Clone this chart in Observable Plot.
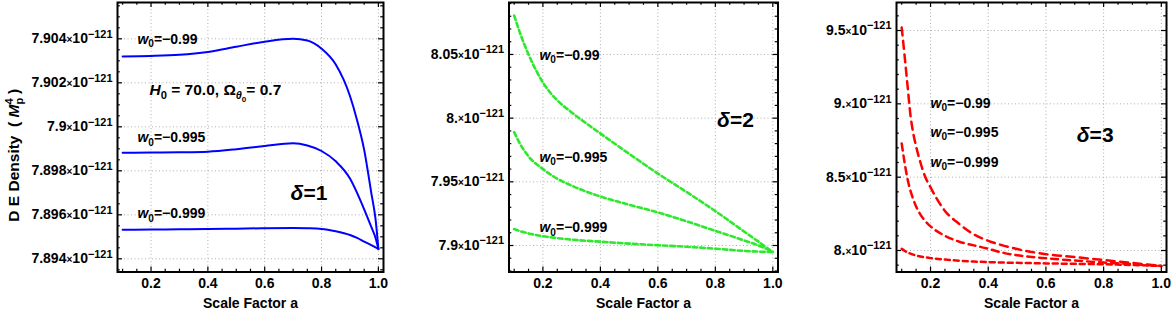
<!DOCTYPE html>
<html><head><meta charset="utf-8">
<script src="https://cdn.jsdelivr.net/npm/d3@7"></script>
<script src="https://cdn.jsdelivr.net/npm/@observablehq/plot@0.6"></script>
<style>
body{margin:0;background:#fff;}
#wrap{position:relative;width:1171px;height:311px;overflow:hidden;}
.panel{position:absolute;top:0;}
#wrap g[aria-label="y-axis tick label"], #wrap g[aria-label="x-axis tick label"]{font-size:14px;}
</style></head><body><div id="wrap"></div>
<script>
// ---------- data (density in units of 1e-121 M_p^4) ----------
const xTicks = [0.2, 0.4, 0.6, 0.8, 1.0];
const xTickLabels = ["0.2", "0.4", "0.6", "0.8", "1.0"];

// delta = 1
const a1 = [0.1, 0.2, 0.3, 0.4, 0.5, 0.6, 0.7, 0.75, 0.8, 0.85, 0.9, 0.925, 0.95, 0.975, 0.99, 1.0];
const d1_w099  = [7.90320, 7.90322, 7.90327, 7.90340, 7.90364, 7.90387, 7.90400, 7.90392, 7.90355, 7.90283, 7.90140, 7.90030, 7.89895, 7.89700, 7.89580, 7.89445];
const d1_w0995 = [7.89882, 7.89883, 7.89884, 7.89887, 7.89898, 7.89913, 7.89925, 7.89915, 7.89890, 7.89843, 7.89765, 7.89700, 7.89625, 7.89545, 7.89495, 7.89445];
const d1_w0999 = [7.89532, 7.89533, 7.89534, 7.89535, 7.89537, 7.89539, 7.89540, 7.89539, 7.89536, 7.89525, 7.89508, 7.89495, 7.89478, 7.89462, 7.89452, 7.89445];
const y1Ticks = [7.894, 7.896, 7.898, 7.9, 7.902, 7.904];
const y1TickLabels = ["7.894", "7.896", "7.898", "7.9", "7.902", "7.904"];

// delta = 2
const a2 = [0.1, 0.12, 0.15, 0.2, 0.25, 0.3, 0.4, 0.5, 0.6, 0.7, 0.8, 0.9, 0.95, 1.0];
const d2_w099  = [8.0806, 8.0670, 8.0500, 8.0280, 8.0140, 8.0045, 7.9880, 7.9720, 7.9565, 7.9420, 7.9270, 7.9110, 7.9030, 7.8947];
const d2_w0995 = [7.9890, 7.9800, 7.9700, 7.9600, 7.9525, 7.9470, 7.9385, 7.9320, 7.9260, 7.9190, 7.9115, 7.9040, 7.9000, 7.8950];
const d2_w0999 = [7.9129, 7.9113, 7.9095, 7.9073, 7.9058, 7.9046, 7.9030, 7.9015, 7.9002, 7.8990, 7.8975, 7.8958, 7.8952, 7.8947];
const y2Ticks = [7.9, 7.95, 8.0, 8.05];
const y2TickLabels = ["7.9", "7.95", "8.", "8.05"];

// delta = 3
const a3 = [0.1, 0.11, 0.12, 0.13, 0.14, 0.15, 0.165, 0.18, 0.2, 0.25, 0.3, 0.35, 0.4, 0.45, 0.5, 0.6, 0.7, 0.8, 0.9, 1.0];
const d3_w099  = [9.52, 9.33, 9.13, 8.93, 8.80, 8.71, 8.60, 8.51, 8.43, 8.27, 8.18, 8.11, 8.066, 8.035, 8.010, 7.975, 7.955, 7.935, 7.915, 7.8945];
const d3_w0995 = [8.73, 8.60, 8.49, 8.41, 8.35, 8.30, 8.245, 8.205, 8.165, 8.10, 8.06, 8.035, 8.012, 7.985, 7.968, 7.947, 7.932, 7.918, 7.907, 7.8945];
const d3_w0999 = [8.011, 7.998, 7.987, 7.979, 7.972, 7.966, 7.959, 7.954, 7.948, 7.938, 7.930, 7.925, 7.921, 7.918, 7.916, 7.912, 7.909, 7.906, 7.901, 7.8945];
const y3Ticks = [8.0, 8.5, 9.0, 9.5];
const y3TickLabels = ["8.", "8.5", "9.", "9.5"];

const seriesNames = ["w0=-0.99", "w0=-0.995", "w0=-0.999"];
const wLabels = ["{i:w}{sub:0}=−0.99", "{i:w}{sub:0}=−0.995", "{i:w}{sub:0}=−0.999"];

// ---------- rich text helper ----------
const SPEC = {
  n: {s: 1, sh: 0}, i: {s: 1, sh: 0, it: true},
  sub: {s: 0.72, sh: 0.25}, isub: {s: 0.7, sh: 0.25, it: true},
  subsub: {s: 0.52, sh: 0.42},
  sup: {s: 0.78, sh: -0.4}, supstack: {s: 0.72, sh: -0.42, stack: true},
  x: {s: 0.72, sh: -0.03}
};
function rich(el) {
  const src = el.textContent;
  if (!src.includes("{")) return;
  const base = parseFloat(getComputedStyle(el).fontSize);
  const sel = d3.select(el); sel.text(null);
  const re = /\{(\w+):([^}]*)\}|([^{]+)/g;
  let m, cur = 0, prev = null;
  while ((m = re.exec(src))) {
    const type = m[1] || "n", txt = m[1] ? m[2] : m[3];
    const sp = SPEC[type];
    const shift = sp.sh * base;
    const t = sel.append("tspan").text(txt).attr("font-size", sp.s * base).attr("dy", shift - cur);
    if (sp.it) t.attr("font-style", "italic");
    if (sp.stack && prev) t.attr("dx", -prev.node().getComputedTextLength());
    cur = shift; prev = t;
  }
}

// ---------- panels ----------
const H = 311, MT = 2, MB = 39.5;
const xDomain = [0.082, 1.018];
const xMinor = d3.range(0.1, 1.0001, 0.05).map(v => +v.toFixed(3)).filter(v => !xTicks.some(t => Math.abs(t - v) < 1e-9));

const panels = [
  {left: 0, width: 390, ml: 117, mr: 7, yDomain: [7.89340, 7.90565], yTicks: y1Ticks, yLabels: y1TickLabels,
   minorStep: 0.0005, color: "#0000ff", sw: 2,
   series: [{a: a1, v: d1_w099, dash: null}, {a: a1, v: d1_w0995, dash: null}, {a: a1, v: d1_w0999, dash: null}],
   wPos: [[0.152, 7.90397], [0.152, 7.89950], [0.152, 7.89605]],
   delta: {t: "{i:δ}=1", a: 0.691, v: 7.89697},
   extra: {t: "{i:H}{sub:0} = 70.0, Ω{isub:θ}{subsub:0}= 0.7", a: 0.1947, v: 7.90165},
   ylabel: true},
  {left: 390, width: 390, ml: 118.5, mr: 2.5, yDomain: [7.8792, 8.0908], yTicks: y2Ticks, yLabels: y2TickLabels,
   minorStep: 0.01, color: "#2ee82e", sw: 2.6,
   series: [{a: a2, v: d2_w099, dash: "4.5,3"}, {a: a2, v: d2_w0995, dash: "4.5,3"}, {a: a2, v: d2_w0999, dash: "4.5,3"}],
   wPos: [[0.188, 8.0492], [0.188, 7.9691], [0.188, 7.9141]],
   delta: {t: "{i:δ}=2", a: 0.806, v: 7.9982}},
  {left: 780, width: 391, ml: 116, mr: 5, yDomain: [7.8534, 9.691], yTicks: y3Ticks, yLabels: y3TickLabels,
   minorStep: 0.1, color: "#ff0000", sw: 2.5,
   series: [{a: a3, v: d3_w099, dash: "8,5.5"}, {a: a3, v: d3_w0995, dash: "7,5"}, {a: a3, v: d3_w0999, dash: "5,4"}],
   wPos: [[0.200, 9.0023], [0.200, 8.8046], [0.200, 8.600]],
   delta: {t: "{i:δ}=3", a: 0.707, v: 8.784}}
];

const wrap = document.getElementById("wrap");
for (const p of panels) {
  const frameH = H - MT - MB;
  const frameW = p.width - p.ml - p.mr;
  const [y0, y1] = p.yDomain;
  const yMinor = d3.range(Math.ceil(y0 / p.minorStep) * p.minorStep, y1, p.minorStep)
    .map(v => +v.toFixed(5)).filter(v => !p.yTicks.some(t => Math.abs(t - v) < p.minorStep / 10));
  const tickStyle = {stroke: "#000", strokeWidth: 1.2};
  const marks = [
    Plot.gridX({ticks: xTicks, stroke: "#b0b0b0", strokeOpacity: 1, strokeDasharray: "1,2.5", strokeWidth: 1}),
    Plot.gridY({ticks: p.yTicks, stroke: "#b0b0b0", strokeOpacity: 1, strokeDasharray: "1,2.5", strokeWidth: 1}),
    ...p.series.map((s, k) => Plot.line(s.a.map((a, i) => ({a, v: s.v[i], w: seriesNames[k]})),
      {x: "a", y: "v", stroke: p.color, strokeWidth: p.sw, strokeDasharray: s.dash, curve: "monotone-x"})),
    // inward frame ticks
    Plot.ruleX(xTicks, {x: d => d, insetTop: frameH - 5, ...tickStyle}),
    Plot.ruleX(xTicks, {x: d => d, insetBottom: frameH - 5, ...tickStyle}),
    Plot.ruleX(xMinor, {x: d => d, insetTop: frameH - 2.8, ...tickStyle}),
    Plot.ruleX(xMinor, {x: d => d, insetBottom: frameH - 2.8, ...tickStyle}),
    Plot.ruleY(p.yTicks, {y: d => d, insetRight: frameW - 5, ...tickStyle}),
    Plot.ruleY(p.yTicks, {y: d => d, insetLeft: frameW - 5, ...tickStyle}),
    Plot.ruleY(yMinor, {y: d => d, insetRight: frameW - 2.8, ...tickStyle}),
    Plot.ruleY(yMinor, {y: d => d, insetLeft: frameW - 2.8, ...tickStyle}),
    Plot.frame({stroke: "#000", strokeWidth: 2}),
    Plot.axisX({ticks: xTicks, tickSize: 0, tickPadding: 6, label: null,
      tickFormat: d => xTickLabels[xTicks.indexOf(d)]}),
    Plot.axisY({ticks: p.yTicks, tickSize: 0, tickPadding: 5, label: null,
      tickFormat: d => p.yLabels[p.yTicks.indexOf(d)] + "{x:×}10{sup:−121}"}),
    Plot.text(["Scale Factor a"], {text: d => d, frameAnchor: "bottom", dy: 31.5, fontSize: 14, lineAnchor: "middle"}),
    Plot.text(wLabels.map((t, k) => ({t, a: p.wPos[k][0], v: p.wPos[k][1]})),
      {x: "a", y: "v", text: "t", textAnchor: "start", lineAnchor: "middle", fontSize: 14}),
    Plot.text([p.delta], {x: "a", y: "v", text: "t", textAnchor: "start", lineAnchor: "middle", fontSize: 21})
  ];
  if (p.extra) marks.push(Plot.text([p.extra], {x: "a", y: "v", text: "t", textAnchor: "start", lineAnchor: "middle", fontSize: 15.5}));
  if (p.ylabel) marks.push(Plot.text(["D E Density  ( {i:M}{sub:p}{supstack:4} )"],
    {text: d => d, frameAnchor: "left", dx: -103, dy: 18, rotate: -90, textAnchor: "middle", lineAnchor: "middle", fontSize: 15.5}));

  const chart = Plot.plot({
    width: p.width, height: H,
    marginLeft: p.ml, marginRight: p.mr, marginTop: MT, marginBottom: MB,
    x: {domain: xDomain},
    y: {domain: p.yDomain},
    style: {fontFamily: '"Liberation Sans", Arial, sans-serif', fontWeight: "bold", fontSize: "13px",
            color: "#000", background: "transparent", overflow: "visible"},
    marks
  });
  const div = document.createElement("div");
  div.className = "panel";
  div.style.left = p.left + "px";
  div.appendChild(chart);
  wrap.appendChild(div);
  chart.querySelectorAll("text").forEach(rich);
}
</script>
</body></html>
